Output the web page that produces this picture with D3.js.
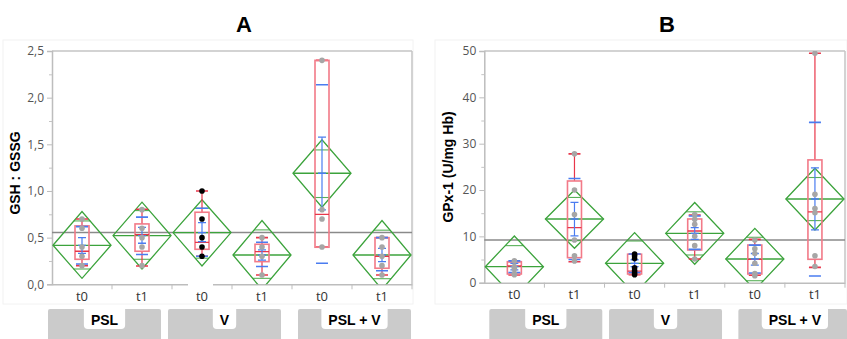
<!DOCTYPE html>
<html>
<head>
<meta charset="utf-8">
<script src="https://cdn.jsdelivr.net/npm/d3@7"></script>
<style>
  body { margin: 0; background: #fff; }
  svg { display: block; }
</style>
</head>
<body>
<script>
const groups = ["PSL", "V", "PSL + V"]
const times = ["t0", "t1"]

// Panel A: GSH : GSSG  (order: PSL t0, PSL t1, V t0, V t1, PSL+V t0, PSL+V t1)
const gshMean = [0.418, 0.522, 0.554, 0.314, 1.19, 0.314]
const gshCi = [[0.064, 0.78], [0.164, 0.88], [0.196, 0.905], [-0.055, 0.683], [0.826, 1.548], [-0.055, 0.683]]
const gshOverlap = [[0.164, 0.679], [0.268, 0.79], [0.28, 0.815], [0.064, 0.583], [0.93, 1.44], [0.06, 0.58]]
// whisker low, q1, median, q3, whisker high
const gshBox = [[0.2, 0.268, 0.354, 0.626, 0.7], [0.196, 0.354, 0.532, 0.647, 0.805], [0.3, 0.375, 0.45, 0.772, 1.0],
                [0.1, 0.243, 0.35, 0.429, 0.5], [0.4, 0.397, 0.75, 2.4, 2.4], [0.1, 0.172, 0.3, 0.5, 0.5]]
const gshSe = [[0.332, 0.5], [0.44, 0.61], [0.457, 0.66], [0.26, 0.368], [0.797, 1.577], [0.243, 0.386]]
const gshSd = [[0.218, 0.618], [0.32, 0.72], [0.3, 0.815], [0.19, 0.45], [0.225, 2.138], [0.146, 0.5]]
const gshPoints = [[0.7, 0.6, 0.4, 0.3, 0.2], [0.8, 0.6, 0.5, 0.4, 0.2], [1.0, 0.7, 0.5, 0.4, 0.3],
                   [0.5, 0.4, 0.3, 0.1], [2.4, 0.8, 0.7, 0.4], [0.5, 0.4, 0.3, 0.2, 0.1]]
const gshGrandMean = 0.554
const gshTicks = [0, 0.5, 1, 1.5, 2, 2.5]

// Panel B: GPx-1 (U/mg Hb)
const gpxMean = [3.45, 13.75, 4.19, 10.65, 5.11, 18.06]
const gpxCi = [[-3.18, 10.08], [7.42, 20.0], [-2.42, 10.8], [3.97, 17.3], [-1.51, 11.73], [11.37, 24.7]]
const gpxOverlap = [[-1.24, 8.0], [9.07, 18.4], [-0.5, 9.0], [5.98, 15.3], [0.43, 9.8], [13.4, 22.7]]
const gpxBox = [[1.66, 1.88, 3.6, 4.53, 4.53], [4.53, 5.4, 11.9, 21.95, 27.8], [1.7, 1.88, 2.5, 6.15, 6.15],
                [5.1, 7.06, 11.16, 13.75, 14.6], [1.6, 1.88, 5.05, 8.13, 9.36], [3.3, 5.05, 15.3, 26.5, 49.5]]
const gpxSe = [[2.75, 4.15], [10.1, 17.35], [3.45, 4.95], [9.36, 11.9], [3.8, 6.3], [11.4, 24.8]]
const gpxSd = [[2.2, 4.7], [5.0, 22.5], [2.2, 6.2], [7.2, 14.4], [2.1, 8.1], [1.45, 34.6]]
const gpxPoints = [[4.7, 3.5, 3.0, 2.0, 1.7], [27.8, 20, 14.7, 9.2, 5.8, 4.7], [6.2, 5.8, 5.2, 3.2, 2.6, 2.1, 1.7],
                   [14.7, 13.7, 12.6, 10, 8, 5.1], [9.2, 7.3, 6.3, 4.2, 2.0, 1.5], [49.5, 19.1, 16, 15.1, 5.8, 3.5]]
const gpxGrandMean = 9.2
const gpxTicks = [0, 10, 20, 30, 40, 50]

const green = "#3ca33c", red = "#e8364a", pink = "#f27a88", blue = "#4a7cf0"

let svg = d3.select("body").append("svg")
            .attr("width", 847)
            .attr("height", 339)

function drawPanel(p) {
    let g = svg.append("g")

    // faint outer frame of the JMP graph
    g.append("rect")
     .attr("x", p.frame[0]).attr("y", 40)
     .attr("width", p.frame[1] - p.frame[0]).attr("height", 264)
     .attr("fill", "none").attr("stroke", "#f2f2f2")

    let x = d3.scaleBand().domain(d3.range(6)).range([p.left, p.right])
    let y = d3.scaleLinear().domain([0, p.max]).range([p.bottom, p.top])
    let cx = i => x(i) + x.bandwidth() / 2
    let hw = x.bandwidth() / 2 - 1

    let clipId = "clip" + p.name
    g.append("clipPath").attr("id", clipId)
     .append("rect")
     .attr("x", p.left).attr("y", p.top)
     .attr("width", p.right - p.left).attr("height", p.bottom - p.top)

    // frame: top and right
    g.append("line").attr("x1", p.left).attr("x2", p.right).attr("y1", p.top).attr("y2", p.top)
     .attr("stroke", "#c4c4c4").attr("stroke-width", 1.5)
    g.append("line").attr("x1", p.right).attr("x2", p.right).attr("y1", p.top).attr("y2", p.bottom)
     .attr("stroke", "#c4c4c4").attr("stroke-width", 1.5)

    // y axis
    let yAxis = g.append("g")
                 .attr("transform", "translate(" + p.left + ",0)")
                 .call(d3.axisLeft(y).tickValues(p.ticks).tickSize(5).tickPadding(3).tickFormat(p.fmt))
    let minor = p.ticks.slice(1).map((t, i) => (t + p.ticks[i]) / 2)
    g.append("g")
     .attr("transform", "translate(" + p.left + ",0)")
     .call(d3.axisLeft(y).tickValues(minor).tickSize(3).tickFormat(""))
     .call(s => s.select(".domain").remove())
     .selectAll("line").attr("stroke", "#c4c4c4")
    yAxis.select(".domain").attr("stroke", "#bdbdbd").attr("stroke-width", 1.5)
    yAxis.selectAll(".tick line").attr("stroke", "#bdbdbd")
    yAxis.selectAll("text")
         .style("font-family", "'Open Sans', sans-serif")
         .style("font-size", "12px")
         .attr("fill", "#555")

    // x axis
    let xAxis = g.append("g")
                 .attr("transform", "translate(0," + p.bottom + ")")
                 .call(d3.axisBottom(x).tickSize(0).tickPadding(7).tickFormat(i => times[i % 2]))
    xAxis.select(".domain").attr("stroke", "#bdbdbd").attr("stroke-width", 1.5)
    xAxis.selectAll("text")
         .style("font-family", "'Open Sans', sans-serif")
         .style("font-size", "13px")
         .attr("fill", "#333")
    g.selectAll(".sep")
     .data(d3.range(1, 7))
     .enter().append("line")
     .attr("x1", i => x(i - 1) + x.bandwidth()).attr("x2", i => x(i - 1) + x.bandwidth())
     .attr("y1", p.bottom).attr("y2", p.bottom + 5)
     .attr("stroke", "#bdbdbd")
    if (p.gap) {
        g.append("rect").attr("x", p.gap[0]).attr("y", p.bottom - 1)
         .attr("width", p.gap[1] - p.gap[0]).attr("height", 6).attr("fill", "#fff")
    }

    // grand mean line
    g.append("line")
     .attr("x1", p.left).attr("x2", p.right)
     .attr("y1", y(p.grand)).attr("y2", y(p.grand))
     .attr("stroke", "#8a8a8a").attr("stroke-width", 1.5)

    let plot = g.append("g").attr("clip-path", "url(#" + clipId + ")")

    // means diamonds
    plot.selectAll(".diamond")
        .data(p.mean)
        .enter().append("polygon")
        .attr("points", (m, i) => [[cx(i) - hw, y(m)], [cx(i), y(p.ci[i][1])], [cx(i) + hw, y(m)], [cx(i), y(p.ci[i][0])]].join(" "))
        .attr("fill", "none").attr("stroke", green).attr("stroke-width", 1.3)
    plot.selectAll(".meanline")
        .data(p.mean)
        .enter().append("line")
        .attr("x1", (m, i) => cx(i) - hw).attr("x2", (m, i) => cx(i) + hw)
        .attr("y1", m => y(m)).attr("y2", m => y(m))
        .attr("stroke", green).attr("stroke-width", 1.3)
    p.overlap.forEach((o, i) => {
        o.forEach(v => {
            let frac = Math.abs(y(v) - y(p.mean[i])) / Math.abs(y(p.ci[i][1]) - y(p.mean[i]))
            let w = hw * (1 - frac)
            plot.append("line")
                .attr("x1", cx(i) - w).attr("x2", cx(i) + w)
                .attr("y1", y(v)).attr("y2", y(v))
                .attr("stroke", green).attr("stroke-width", 1.1).attr("opacity", 0.85)
        })
    })

    // box plots
    let bw = 14, cw = 12
    p.box.forEach((b, i) => {
        let c = cx(i)
        plot.append("line").attr("x1", c).attr("x2", c).attr("y1", y(b[3])).attr("y2", y(b[4]))
            .attr("stroke", red).attr("stroke-width", 1.2)
        plot.append("line").attr("x1", c).attr("x2", c).attr("y1", y(b[1])).attr("y2", y(b[0]))
            .attr("stroke", red).attr("stroke-width", 1.2)
        ;[b[0], b[4]].forEach(v => {
            plot.append("line").attr("x1", c - cw / 2).attr("x2", c + cw / 2).attr("y1", y(v)).attr("y2", y(v))
                .attr("stroke", red).attr("stroke-width", 1.6)
        })
        plot.append("rect")
            .attr("x", c - bw / 2).attr("y", y(b[3]))
            .attr("width", bw).attr("height", y(b[1]) - y(b[3]))
            .attr("fill", "none").attr("stroke", pink).attr("stroke-width", 1.6)
        plot.append("line").attr("x1", c - bw / 2).attr("x2", c + bw / 2).attr("y1", y(b[2])).attr("y2", y(b[2]))
            .attr("stroke", red).attr("stroke-width", 1.3)
    })

    // std dev lines
    p.sd.forEach((s, i) => {
        s.forEach(v => {
            plot.append("line").attr("x1", cx(i) - 6).attr("x2", cx(i) + 6).attr("y1", y(v)).attr("y2", y(v))
                .attr("stroke", blue).attr("stroke-width", 1.6)
        })
    })

    // mean error bars
    p.se.forEach((s, i) => {
        let c = cx(i)
        plot.append("line").attr("x1", c).attr("x2", c).attr("y1", y(s[0])).attr("y2", y(s[1]))
            .attr("stroke", blue).attr("stroke-width", 1.2)
        ;[s[0], s[1], p.mean[i]].forEach(v => {
            plot.append("line").attr("x1", c - 4).attr("x2", c + 4).attr("y1", y(v)).attr("y2", y(v))
                .attr("stroke", blue).attr("stroke-width", 1.3)
        })
    })

    // points
    p.points.forEach((pts, i) => {
        plot.selectAll(".pt" + i)
            .data(pts)
            .enter().append("circle")
            .attr("cx", cx(i)).attr("cy", v => y(v)).attr("r", 2.8)
            .attr("fill", i === 2 ? "#000" : "#a6a6a6")
    })

    // group strips with white label tabs
    groups.forEach((name, k) => {
        let sx = x(2 * k) + p.strip[k]
        let sw = Math.min(113, 847 - sx)
        let mid = sx + 113 / 2
        g.append("rect").attr("x", sx).attr("y", 309).attr("width", sw).attr("height", 32)
         .attr("fill", "#cbcbcb").attr("rx", 2)
        let tab = g.append("path").attr("fill", "#fff")
        let t = g.append("text").attr("x", mid).attr("y", 325)
                 .attr("text-anchor", "middle")
                 .style("font-family", "'Liberation Sans', Arial, sans-serif")
                 .style("font-size", "14px").style("font-weight", "bold")
                 .text(name)
        let tw = t.node().getComputedTextLength() + 14
        let tx = mid - tw / 2, r = 4
        tab.attr("d", "M" + tx + ",309 V" + (329 - r) + " Q" + tx + ",329 " + (tx + r) + ",329 H" + (tx + tw - r) +
                      " Q" + (tx + tw) + ",329 " + (tx + tw) + "," + (329 - r) + " V309 Z")
    })

    // title and y label
    g.append("text").attr("x", p.titleX).attr("y", 32)
     .attr("text-anchor", "middle")
     .style("font-family", "'Liberation Sans', Arial, sans-serif")
     .style("font-size", "22px").style("font-weight", "bold")
     .text(p.title)
    g.append("text")
     .attr("transform", "translate(" + p.labelX + "," + p.labelY + ")rotate(-90)")
     .attr("text-anchor", "middle")
     .style("font-family", "'Liberation Sans', Arial, sans-serif")
     .style("font-size", "14px").style("font-weight", "bold")
     .text(p.label)
}

drawPanel({
    name: "A", title: "A", titleX: 244, label: "GSH : GSSG", labelX: 20, labelY: 173,
    left: 52, right: 412, top: 51, bottom: 284.3, max: 2.5, frame: [3, 413],
    ticks: gshTicks, fmt: d => d3.format(".1f")(d).replace(".", ","),
    mean: gshMean, ci: gshCi, overlap: gshOverlap, box: gshBox, se: gshSe, sd: gshSd,
    points: gshPoints, grand: gshGrandMean, strip: [-4, -4, 6], gap: [188, 213]
})

drawPanel({
    name: "B", title: "B", titleX: 667, label: "GPx-1 (U/mg Hb)", labelX: 453, labelY: 167,
    left: 484.3, right: 845, top: 51, bottom: 282.7, max: 50, frame: [435, 847],
    ticks: gpxTicks, fmt: d3.format("d"),
    mean: gpxMean, ci: gpxCi, overlap: gpxOverlap, box: gpxBox, se: gpxSe, sd: gpxSd,
    points: gpxPoints, grand: gpxGrandMean, strip: [5, 4.5, 13.6]
})
</script>
</body>
</html>
